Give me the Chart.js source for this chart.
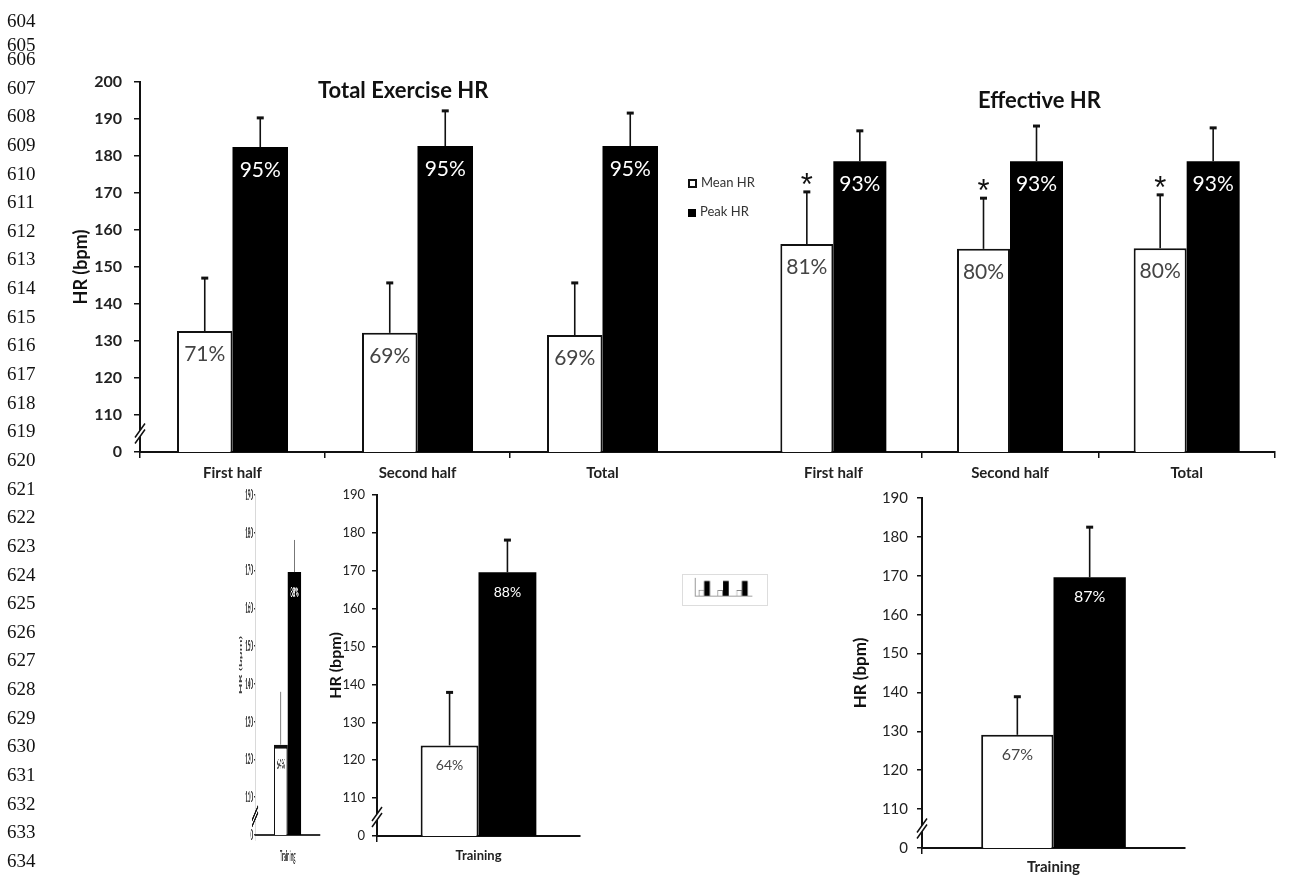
<!DOCTYPE html>
<html>
<head>
<meta charset="utf-8">
<script src="https://cdn.jsdelivr.net/npm/chart.js@4.4.1/dist/chart.umd.min.js"></script>
<style>
  body { margin: 0; background: #fff; width: 1305px; height: 880px; position: relative; overflow: hidden; font-family: Lato, sans-serif; }
  canvas { position: absolute; }
  .lineno { position: absolute; left: 7px; font-family: "Liberation Serif", serif; font-size: 19px; line-height: 20px; color: #111; }
  .ptitle { position: absolute; font-weight: bold; font-size: 22px; line-height: 26px; color: #111; white-space: nowrap; }
  #legend { position: absolute; left: 688px; top: 172px; font-size: 13px; color: #333; }
  #legend div { height: 29px; line-height: 20px; white-space: nowrap; }
  #legend span.sw { display: inline-block; width: 9px; height: 9px; box-sizing: border-box; margin-right: 4px; vertical-align: -1px; }
</style>
</head>
<body>

<canvas id="exerciseChart" width="745" height="492" style="left:0;top:0"></canvas>
<canvas id="effectiveChart" width="560" height="492" style="left:745px;top:0"></canvas>
<canvas id="tinyChart" width="290" height="405" style="left:235px;top:470px;transform:scaleX(0.3);transform-origin:0 0"></canvas>
<canvas id="trainingChart" width="300" height="406" style="left:300px;top:470px"></canvas>
<canvas id="thumbChart" width="86" height="32" style="left:682px;top:574px;border:1px solid #ddd"></canvas>
<canvas id="training2Chart" width="380" height="410" style="left:830px;top:470px"></canvas>

<div class="ptitle" style="left:318px;top:77px">Total Exercise HR</div>
<div class="ptitle" style="left:978px;top:87px">Effective HR</div>
<div id="legend"></div>

<script>
// categories and series
var sections = ['First half', 'Second half', 'Total'];
var trainingLabels = ['Training'];
var seriesNames = ['Mean HR', 'Peak HR'];
var seriesFill = ['#ffffff', '#000000'];
var pctColors = ['#444444', '#ffffff'];

// Total Exercise HR (bpm)
var exerciseMean = [132.7, 132.2, 131.6];
var exerciseMeanSd = [14.3, 13.5, 14.1];
var exercisePeak = [182.4, 182.7, 182.7];
var exercisePeakSd = [7.9, 9.5, 8.9];
var exerciseMeanPct = ['71%', '69%', '69%'];
var exercisePeakPct = ['95%', '95%', '95%'];

// Effective HR (bpm)
var effectiveMean = [156.2, 154.9, 155.1];
var effectiveMeanSd = [14.1, 13.7, 14.4];
var effectivePeak = [178.6, 178.6, 178.6];
var effectivePeakSd = [8.2, 9.5, 9.0];
var effectiveMeanPct = ['81%', '80%', '80%'];
var effectivePeakPct = ['93%', '93%', '93%'];
var effectiveStars = [true, true, true];

// Training (bpm)
var trainingMean = [123.9];
var trainingMeanSd = [14.0];
var trainingPeak = [169.6];
var trainingPeakSd = [8.5];
var trainingMeanPct = ['64%'];
var trainingPeakPct = ['88%'];

var training2Mean = [129.1];
var training2MeanSd = [9.8];
var training2Peak = [169.6];
var training2PeakSd = [12.9];
var training2MeanPct = ['67%'];
var training2PeakPct = ['87%'];

// axis: the lowest tick stands for the broken part of the axis and reads "0"
var topAxis = {min: 100, max: 200, step: 10};
var bottomAxis = {min: 100, max: 190, step: 10};
var axisBreakAt = 105;

var lineNumbers = [604, 605, 606, 607, 608, 609, 610, 611, 612, 613, 614, 615, 616, 617, 618, 619,
                   620, 621, 622, 623, 624, 625, 626, 627, 628, 629, 630, 631, 632, 633, 634];

Chart.defaults.font.family = 'Lato, sans-serif';
Chart.defaults.color = '#222';

// error bars, percentage labels and significance stars on top of the bars
var barExtras = {
  id: 'barExtras',
  afterDatasetsDraw: function(chart, args, opts) {
    var ctx = chart.ctx, yScale = chart.scales.y;
    chart.data.datasets.forEach(function(ds, i) {
      var meta = chart.getDatasetMeta(i);
      meta.data.forEach(function(bar, j) {
        var x = bar.x, top = bar.y;
        ctx.save();
        if (ds.errors) {
          var ey = yScale.getPixelForValue(ds.data[j] + ds.errors[j]);
          ctx.strokeStyle = opts.errColor || '#111';
          ctx.lineWidth = opts.errWidth || 1.6;
          ctx.beginPath(); ctx.moveTo(x, top); ctx.lineTo(x, ey); ctx.stroke();
          ctx.lineWidth = opts.capWidth || 3;
          ctx.beginPath(); ctx.moveTo(x - opts.cap, ey); ctx.lineTo(x + opts.cap, ey); ctx.stroke();
          if (ds.stars && ds.stars[j]) {
            ctx.fillStyle = '#111';
            ctx.font = '31px "Liberation Sans"';
            ctx.textAlign = 'center';
            ctx.textBaseline = 'alphabetic';
            ctx.fillText('*', x, ey + 3);
          }
        }
        if (ds.pct) {
          ctx.fillStyle = ds.pctColor;
          ctx.font = opts.pctFont;
          ctx.textAlign = 'center';
          ctx.textBaseline = 'middle';
          ctx.fillText(ds.pct[j], x, top + opts.pctOffset);
        }
        ctx.restore();
      });
    });
  }
};

// "//" break mark on the y axis and optional extension of the x axis line
var axisDecor = {
  id: 'axisDecor',
  afterDraw: function(chart, args, opts) {
    var ctx = chart.ctx, area = chart.chartArea;
    ctx.save();
    ctx.strokeStyle = opts.color || '#111';
    ctx.lineWidth = opts.width || 1.5;
    if (opts.breakAt != null) {
      var yc = chart.scales.y.getPixelForValue(opts.breakAt);
      var x0 = area.left, w = opts.bw || 5, h = opts.bh || 14, g = opts.bg || 6;
      ctx.fillStyle = '#fff';
      ctx.beginPath();
      ctx.moveTo(x0 - w, yc + h / 2 + g / 2);
      ctx.lineTo(x0 + w, yc - h / 2 + g / 2);
      ctx.lineTo(x0 + w, yc - h / 2 - g / 2);
      ctx.lineTo(x0 - w, yc + h / 2 - g / 2);
      ctx.closePath();
      ctx.fill();
      ctx.beginPath();
      ctx.moveTo(x0 - w, yc + h / 2 + g / 2); ctx.lineTo(x0 + w, yc - h / 2 + g / 2);
      ctx.moveTo(x0 - w, yc + h / 2 - g / 2); ctx.lineTo(x0 + w, yc - h / 2 - g / 2);
      ctx.stroke();
    }
    if (opts.extendRight) {
      ctx.lineWidth = 2;
      ctx.beginPath(); ctx.moveTo(area.right, area.bottom); ctx.lineTo(chart.width, area.bottom); ctx.stroke();
    }
    ctx.restore();
  }
};

function makeDatasets(mean, meanSd, meanPct, peak, peakSd, peakPct, stars, barBorder) {
  return [
    {label: seriesNames[0], data: mean, errors: meanSd, pct: meanPct, pctColor: pctColors[0], stars: stars,
     backgroundColor: seriesFill[0], borderColor: '#111', borderWidth: barBorder},
    {label: seriesNames[1], data: peak, errors: peakSd, pct: peakPct, pctColor: pctColors[1],
     backgroundColor: seriesFill[1], borderColor: '#000', borderWidth: 0}
  ];
}

function makeChart(id, labels, datasets, o) {
  var yAxis = o.axis;
  return new Chart(document.getElementById(id), {
    type: 'bar',
    data: {labels: labels, datasets: datasets},
    options: {
      responsive: false,
      animation: false,
      layout: {padding: o.padding},
      datasets: {bar: {barPercentage: 1, categoryPercentage: o.catPct}},
      plugins: {
        legend: {display: false},
        tooltip: {enabled: false},
        barExtras: o.extras,
        axisDecor: o.decor
      },
      scales: {
        x: {
          afterFit: function(scale) { scale.height = o.xHeight; },
          grid: {drawOnChartArea: false, drawTicks: true, tickLength: 6, lineWidth: 1.5, color: o.xTickColor},
          border: {color: o.lineColor || '#111', width: 2},
          ticks: {font: o.xFont, color: o.textColor || '#222', padding: o.xPad, maxRotation: 0}
        },
        y: {
          display: o.showY,
          min: yAxis.min, max: yAxis.max,
          afterFit: function(scale) { scale.width = o.yWidth; },
          grid: {drawOnChartArea: false, drawTicks: true, tickLength: o.yTick || 5, lineWidth: 1.5, color: o.lineColor || '#111'},
          border: {color: o.lineColor || '#111', width: 2},
          ticks: {
            stepSize: yAxis.step, padding: o.yPad, font: o.yFont, color: o.textColor || '#222',
            callback: function(v) { return v === yAxis.min ? '0' : v; }
          },
          title: {display: !!o.yTitle, text: 'HR (bpm)', font: o.yTitleFont, color: o.textColor || '#111', padding: 0}
        }
      }
    },
    plugins: [barExtras, axisDecor]
  });
}

function tickColorHideLast(c) { return c.type === 'tick' ? '#111' : 'rgba(0,0,0,0)'; }
function tickColorHideFirst(c) { return c.index === 0 ? 'rgba(0,0,0,0)' : '#111'; }

// Total exercise HR
makeChart('exerciseChart', sections,
  makeDatasets(exerciseMean, exerciseMeanSd, exerciseMeanPct, exercisePeak, exercisePeakSd, exercisePeakPct, null, 2), {
  axis: topAxis, padding: {left: 70, top: 82, right: 50, bottom: 0}, catPct: 0.6,
  xHeight: 40, xPad: 6, xFont: {size: 15, weight: 'bold'}, xTickColor: tickColorHideLast,
  showY: true, yWidth: 70, yPad: 12, yTick: 6, yFont: {size: 16, weight: 'bold'},
  yTitle: true, yTitleFont: {size: 18, weight: 'bold'},
  extras: {cap: 3.5, pctFont: '21px Lato', pctOffset: 23},
  decor: {breakAt: axisBreakAt, extendRight: true}
});

// Effective HR
makeChart('effectiveChart', sections,
  makeDatasets(effectiveMean, effectiveMeanSd, effectiveMeanPct, effectivePeak, effectivePeakSd, effectivePeakPct, effectiveStars, 2), {
  axis: topAxis, padding: {left: 0, top: 82, right: 30, bottom: 0}, catPct: 0.6,
  xHeight: 40, xPad: 6, xFont: {size: 15, weight: 'bold'}, xTickColor: tickColorHideFirst,
  showY: false, yWidth: 0,
  extras: {cap: 3.5, pctFont: '21px Lato', pctOffset: 23},
  decor: {}
});

// Training (middle)
makeChart('trainingChart', trainingLabels,
  makeDatasets(trainingMean, trainingMeanSd, trainingMeanPct, trainingPeak, trainingPeakSd, trainingPeakPct, null, 2), {
  axis: bottomAxis, padding: {left: 26, top: 25, right: 20, bottom: 0}, catPct: 0.57,
  xHeight: 40, xPad: 6, xFont: {size: 13, weight: 'bold'}, xTickColor: tickColorHideLast,
  showY: true, yWidth: 51, yPad: 7, yTick: 5, yFont: {size: 13},
  yTitle: true, yTitleFont: {size: 16, weight: 'bold'},
  extras: {cap: 3.5, pctFont: '14px Lato', pctOffset: 20},
  decor: {breakAt: axisBreakAt}
});

// Training (right)
makeChart('training2Chart', trainingLabels,
  makeDatasets(training2Mean, training2MeanSd, training2MeanPct, training2Peak, training2PeakSd, training2PeakPct, null, 2), {
  axis: bottomAxis, padding: {left: 20, top: 28, right: 25, bottom: 0}, catPct: 0.55,
  xHeight: 32, xPad: 4, xFont: {size: 15, weight: 'bold'}, xTickColor: tickColorHideLast,
  showY: true, yWidth: 72, yPad: 9, yTick: 5, yFont: {size: 15},
  yTitle: true, yTitleFont: {size: 17, weight: 'bold'},
  extras: {cap: 3.5, pctFont: '16px Lato', pctOffset: 20},
  decor: {breakAt: axisBreakAt}
});

// squeezed copy of the training chart
makeChart('tinyChart', trainingLabels,
  makeDatasets(trainingMean, trainingMeanSd, trainingMeanPct, trainingPeak, trainingPeakSd, trainingPeakPct, null, 4), {
  axis: bottomAxis, padding: {left: 10, top: 25, right: 6, bottom: 0}, catPct: 0.42,
  xHeight: 40, xPad: 6, xFont: {size: 15, weight: 'bold'}, xTickColor: tickColorHideLast,
  showY: true, yWidth: 57, yPad: 3, yTick: 4, yFont: {size: 15, weight: 'bold'},
  yTitle: true, yTitleFont: {size: 14, weight: 'bold'}, textColor: '#444', lineColor: '#333',
  extras: {cap: 0, errColor: '#777', errWidth: 3, capWidth: 1, pctFont: 'bold 14px Lato', pctOffset: 20},
  decor: {breakAt: axisBreakAt, bw: 10, width: 3}
});

// thumbnail
new Chart(document.getElementById('thumbChart'), {
  type: 'bar',
  data: {labels: sections, datasets: [
    {data: exerciseMean, backgroundColor: seriesFill[0], borderColor: '#888', borderWidth: 1},
    {data: exercisePeak, backgroundColor: seriesFill[1], borderWidth: 0}
  ]},
  options: {
    responsive: false, animation: false,
    layout: {padding: {left: 4, top: 3, right: 16, bottom: 2}},
    datasets: {bar: {barPercentage: 1, categoryPercentage: 0.6}},
    plugins: {legend: {display: false}, tooltip: {enabled: false}},
    scales: {
      x: {grid: {display: false}, border: {color: '#999', width: 1}, ticks: {display: false}},
      y: {min: 100, max: 200, grid: {display: false}, border: {color: '#999', width: 1}, ticks: {display: false}}
    }
  }
});

// legend
var legendEl = document.getElementById('legend');
seriesNames.forEach(function(name, i) {
  var row = document.createElement('div');
  var sw = document.createElement('span');
  sw.className = 'sw';
  sw.style.background = seriesFill[i];
  sw.style.border = i === 0 ? '2.5px solid #111' : '0';
  if (i === 1) { sw.style.width = '8px'; sw.style.height = '8px'; }
  row.appendChild(sw);
  row.appendChild(document.createTextNode(name));
  legendEl.appendChild(row);
});

// manuscript line numbers down the margin
lineNumbers.forEach(function(n, i) {
  var d = document.createElement('div');
  d.className = 'lineno';
  var y = i === 0 ? 21 : i === 1 ? 45 : 59 + (i - 2) * 28.64;
  d.style.top = (y - 10) + 'px';
  d.textContent = n;
  document.body.appendChild(d);
});
</script>
</body>
</html>
